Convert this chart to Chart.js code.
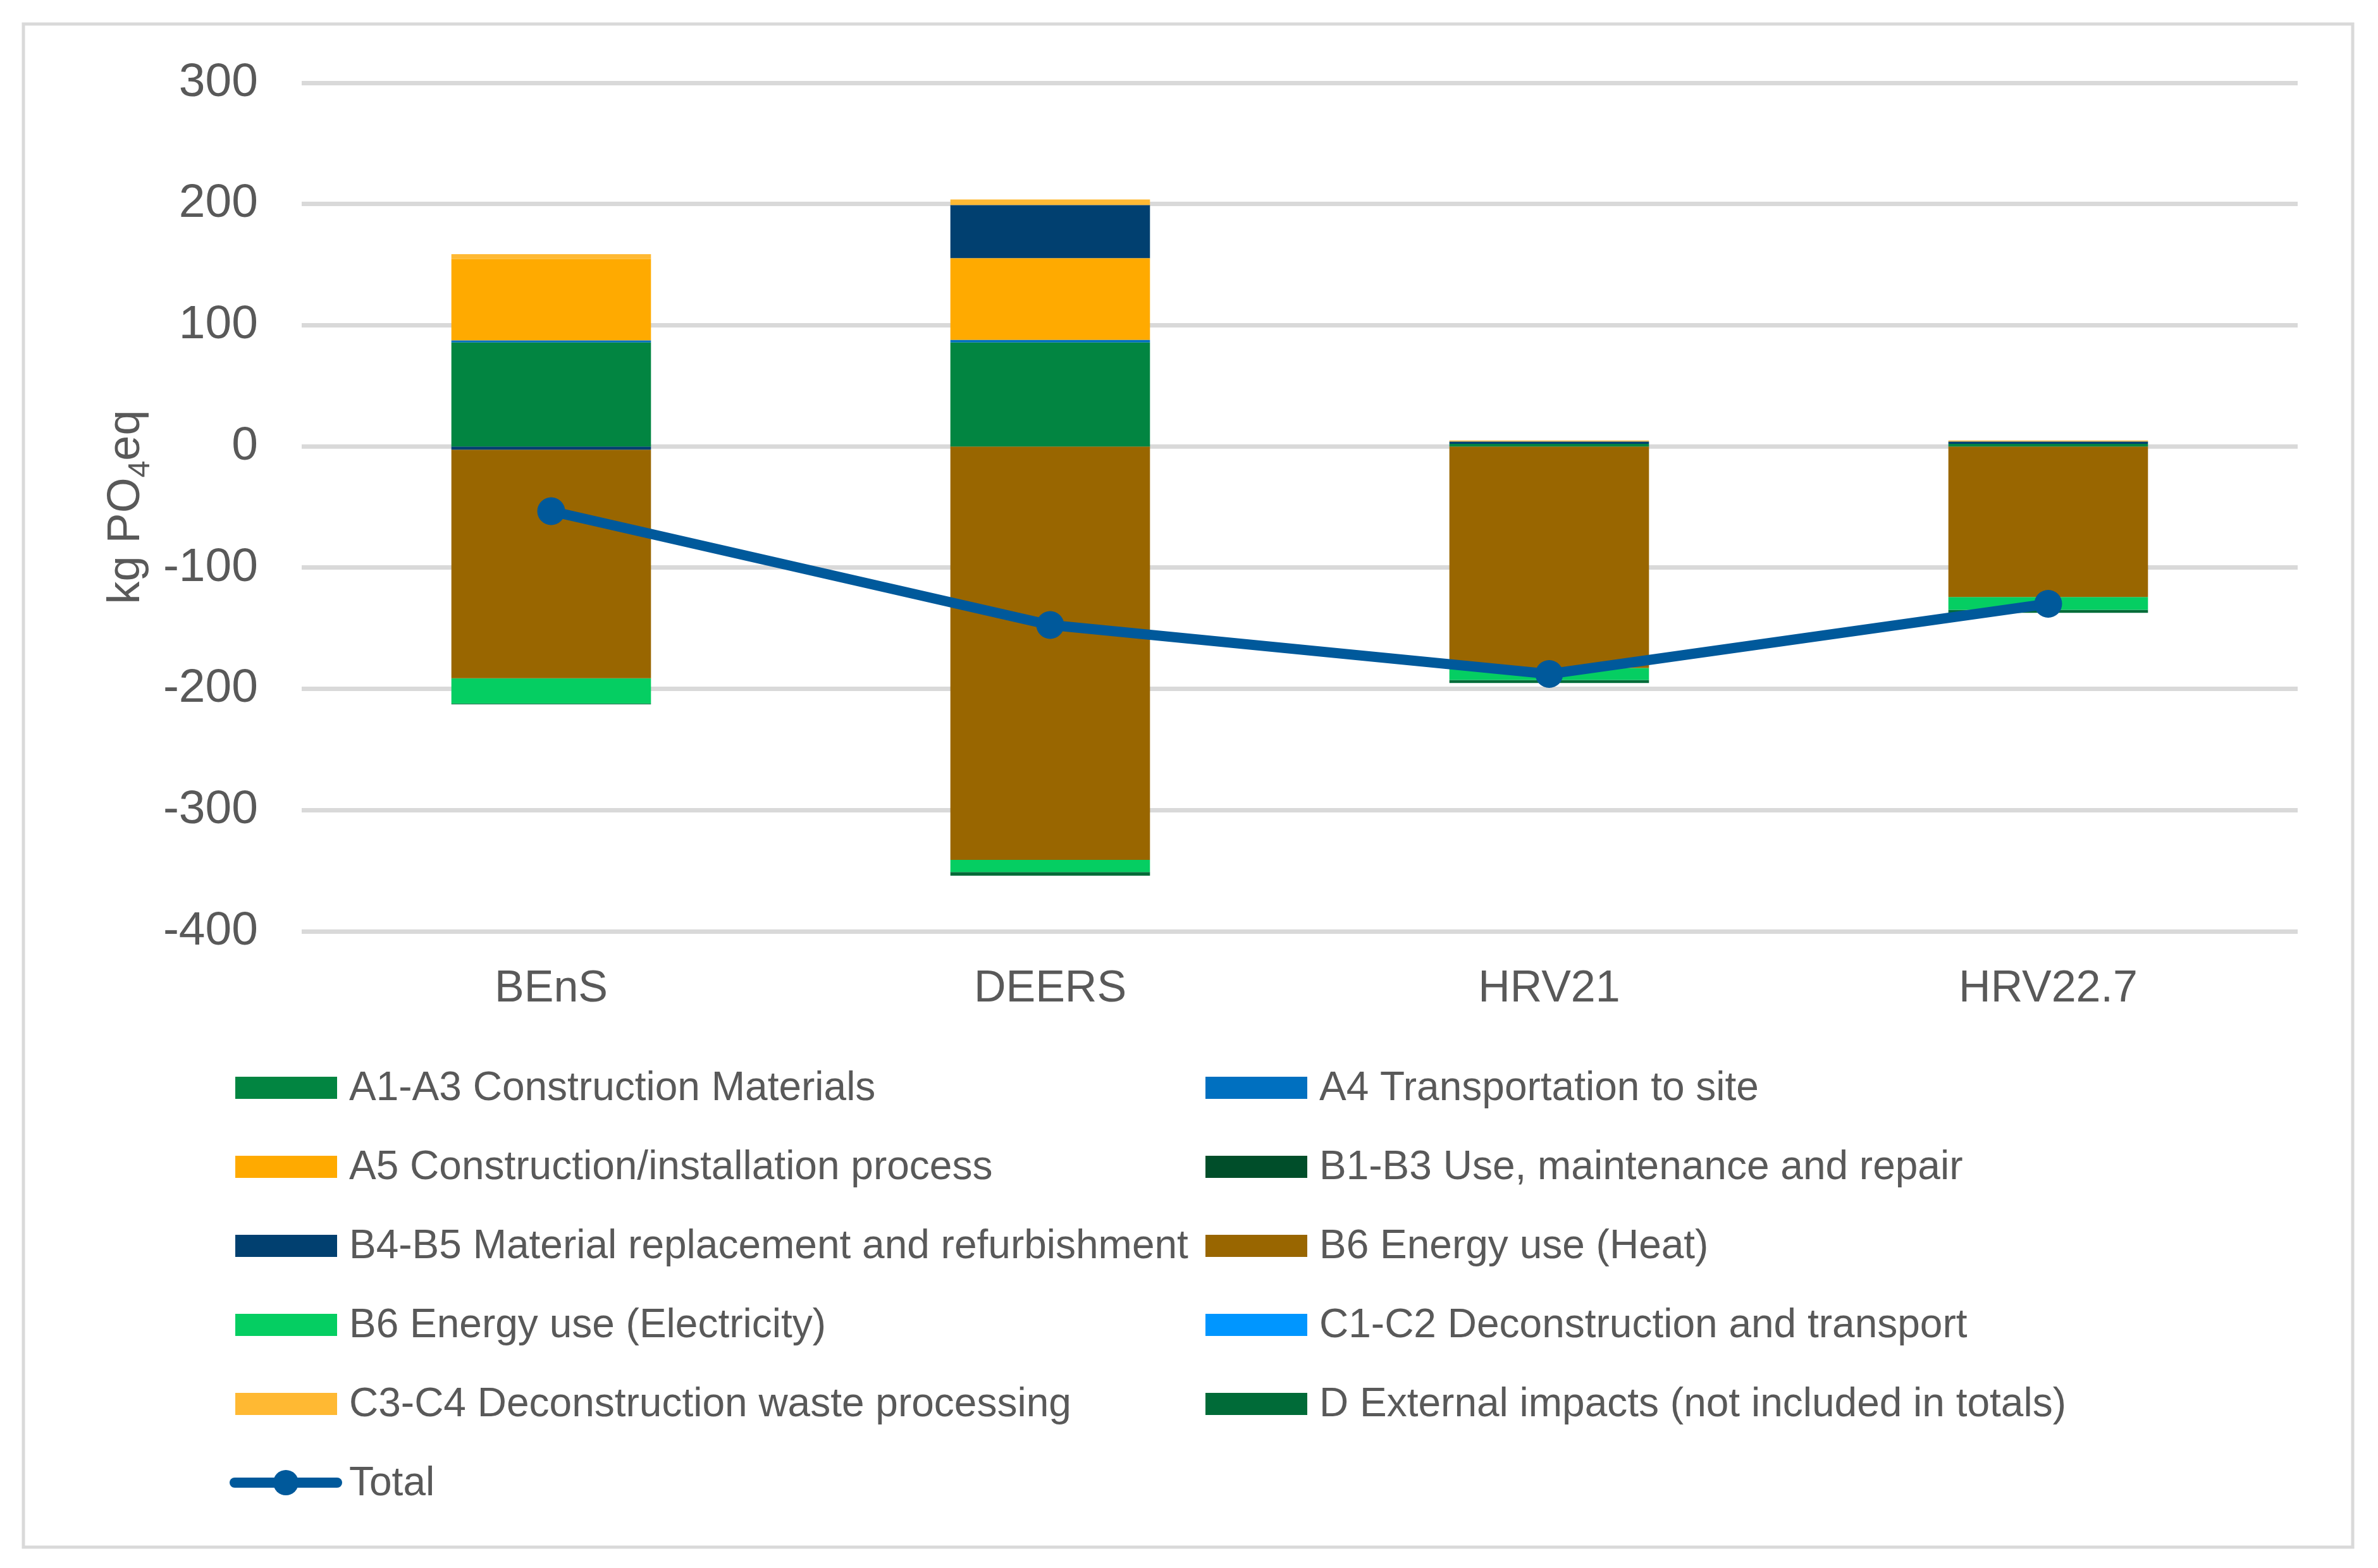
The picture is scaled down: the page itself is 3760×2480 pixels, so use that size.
<!DOCTYPE html>
<html>
<head>
<meta charset="utf-8">
<script src="https://cdn.jsdelivr.net/npm/chart.js@4.4.1/dist/chart.umd.min.js"></script>
<style>
html, body { margin: 0; padding: 0; background: #fff; }
canvas { display: block; }
</style>
</head>
<body>
<canvas id="lcaChart" width="3760" height="2480"></canvas>
<script>
// Data (kg PO4eq)
const categories = ['BEnS', 'DEERS', 'HRV21', 'HRV22.7'];
const seriesNames = [
    'A1-A3 Construction Materials',
    'A4 Transportation to site',
    'A5 Construction/installation process',
    'B1-B3 Use, maintenance and repair',
    'B4-B5 Material replacement and refurbishment',
    'B6 Energy use (Heat)',
    'B6 Energy use (Electricity)',
    'C1-C2 Deconstruction and transport',
    'C3-C4 Deconstruction waste processing',
    'D External impacts (not included in totals)',
];
const a1a3 = [85.7, 85.7, 2.1, 2.1];
const a4 = [1.7, 2.1, 0, 0];
const a5 = [67.3, 67.4, 0, 0];
const b1b3 = [0, 0, 0, 0];
const b4b5 = [-2.6, 43.9, 1.9, 1.9];
const b6Heat = [-188.6, -341.0, -182.7, -124.2];
const b6Elec = [-20.9, -10.1, -9.9, -10.5];
const c1c2 = [0, 0, 0, 0];
const c3c4 = [4.0, 4.7, 0.9, 0.9];
const dExt = [-0.6, -3.0, -2.6, -2.6];
const totalName = 'Total';
const total = [-53.4, -147.3, -187.7, -129.8];
const yMin = -400;
const yMax = 300;
const yStep = 100;

const seriesValues = [a1a3, a4, a5, b1b3, b4b5, b6Heat, b6Elec, c1c2, c3c4, dExt];
const seriesColors = ['#028541', '#0070C0', '#FFAA00', '#004E2A', '#014070',
    '#996600', '#05CE62', '#0096FF', '#FFB933', '#006B38'];
const totalColor = '#00599B';

const FONT = '"Liberation Sans", Arial, sans-serif';
const TEXT = '#595959';
const GRID = '#d9d9d9';
const GRID_W = 7;

// White background and light frame round the whole chart
const frame = {
    id: 'frame',
    beforeDraw(chart) {
        const ctx = chart.ctx;
        ctx.save();
        ctx.fillStyle = '#fff';
        ctx.fillRect(0, 0, chart.width, chart.height);
        ctx.strokeStyle = GRID;
        ctx.lineWidth = 5;
        ctx.strokeRect(37, 38, 3683, 2409);
        ctx.restore();
    },
};

// Zero gridline drawn here so the bars sit flush on it (as in Excel)
const zeroLine = {
    id: 'zeroLine',
    beforeDatasetsDraw(chart) {
        const ctx = chart.ctx;
        const area = chart.chartArea;
        const y = chart.scales.y.getPixelForValue(0);
        ctx.save();
        ctx.strokeStyle = GRID;
        ctx.lineWidth = GRID_W;
        ctx.beginPath();
        ctx.moveTo(area.left, y);
        ctx.lineTo(area.right, y);
        ctx.stroke();
        ctx.restore();
    },
};

// Rotated y title with subscript 4
const axisTitle = {
    id: 'axisTitle',
    afterDraw(chart) {
        const ctx = chart.ctx;
        const area = chart.chartArea;
        const big = `72px ${FONT}`;
        const small = `48px ${FONT}`;
        const parts = [['kg PO', big, 0], ['4', small, 16], ['eq', big, 0]];
        ctx.save();
        ctx.translate(220, (area.top + area.bottom) / 2);
        ctx.rotate(-Math.PI / 2);
        ctx.fillStyle = TEXT;
        ctx.textBaseline = 'alphabetic';
        ctx.textAlign = 'left';
        let w = 0;
        parts.forEach(([t, f]) => { ctx.font = f; w += ctx.measureText(t).width; });
        let x = -w / 2;
        parts.forEach(([t, f, dy]) => {
            ctx.font = f;
            ctx.fillText(t, x, dy);
            x += ctx.measureText(t).width;
        });
        ctx.restore();
    },
};

// Two-column legend in Excel style
const gridLegend = {
    id: 'gridLegend',
    afterDraw(chart) {
        const ctx = chart.ctx;
        const colX = [372, 1906];
        const rowY = 1720;
        const rowStep = 125;
        ctx.save();
        ctx.font = `64px ${FONT}`;
        ctx.textBaseline = 'middle';
        ctx.textAlign = 'left';
        chart.data.datasets.forEach((ds, i) => {
            const x = colX[i % 2];
            const y = rowY + Math.floor(i / 2) * rowStep;
            if (ds.type === 'line') {
                ctx.strokeStyle = ds.borderColor;
                ctx.lineWidth = 16;
                ctx.lineCap = 'round';
                ctx.beginPath();
                ctx.moveTo(x - 1, y);
                ctx.lineTo(x + 161, y);
                ctx.stroke();
                ctx.fillStyle = ds.borderColor;
                ctx.beginPath();
                ctx.arc(x + 80, y, 20, 0, Math.PI * 2);
                ctx.fill();
            } else {
                ctx.fillStyle = ds.backgroundColor;
                ctx.fillRect(x, y - 17, 161, 35);
            }
            ctx.fillStyle = TEXT;
            ctx.fillText(ds.label, x + 180, y + 2);
        });
        ctx.restore();
    },
};

const datasets = seriesNames.map((name, i) => ({
    type: 'bar',
    label: name,
    data: seriesValues[i],
    backgroundColor: seriesColors[i],
    borderWidth: 0,
    barPercentage: 0.4,
    categoryPercentage: 1.0,
    order: 1,
}));
datasets.push({
    type: 'line',
    label: totalName,
    data: total,
    stack: 'total',
    borderColor: totalColor,
    backgroundColor: totalColor,
    borderWidth: 16,
    pointRadius: 22,
    pointBackgroundColor: totalColor,
    pointBorderWidth: 0,
    tension: 0,
    borderJoinStyle: 'round',
    order: 0,
});

new Chart(document.getElementById('lcaChart').getContext('2d'), {
    data: { labels: categories, datasets: datasets },
    plugins: [frame, zeroLine, axisTitle, gridLegend],
    options: {
        responsive: false,
        devicePixelRatio: 1,
        animation: false,
        layout: { padding: { top: 131, right: 127, left: 0, bottom: 0 } },
        plugins: {
            legend: { display: false },
            tooltip: { enabled: false },
        },
        scales: {
            x: {
                stacked: true,
                grid: { display: false, drawTicks: false },
                border: { display: false },
                ticks: { color: TEXT, font: { family: FONT, size: 70 }, padding: 50 },
                afterFit(scale) { scale.height = 2480 - 1473; },
            },
            y: {
                stacked: true,
                min: yMin,
                max: yMax,
                grid: {
                    color: GRID,
                    lineWidth: (c) => (c.tick && c.tick.value === 0 ? 0 : GRID_W),
                    drawTicks: false,
                },
                border: { display: false },
                ticks: { stepSize: yStep, color: TEXT, font: { family: FONT, size: 75 }, padding: 69 },
                afterFit(scale) { scale.width = 477; },
            },
        },
    },
});
</script>
</body>
</html>
